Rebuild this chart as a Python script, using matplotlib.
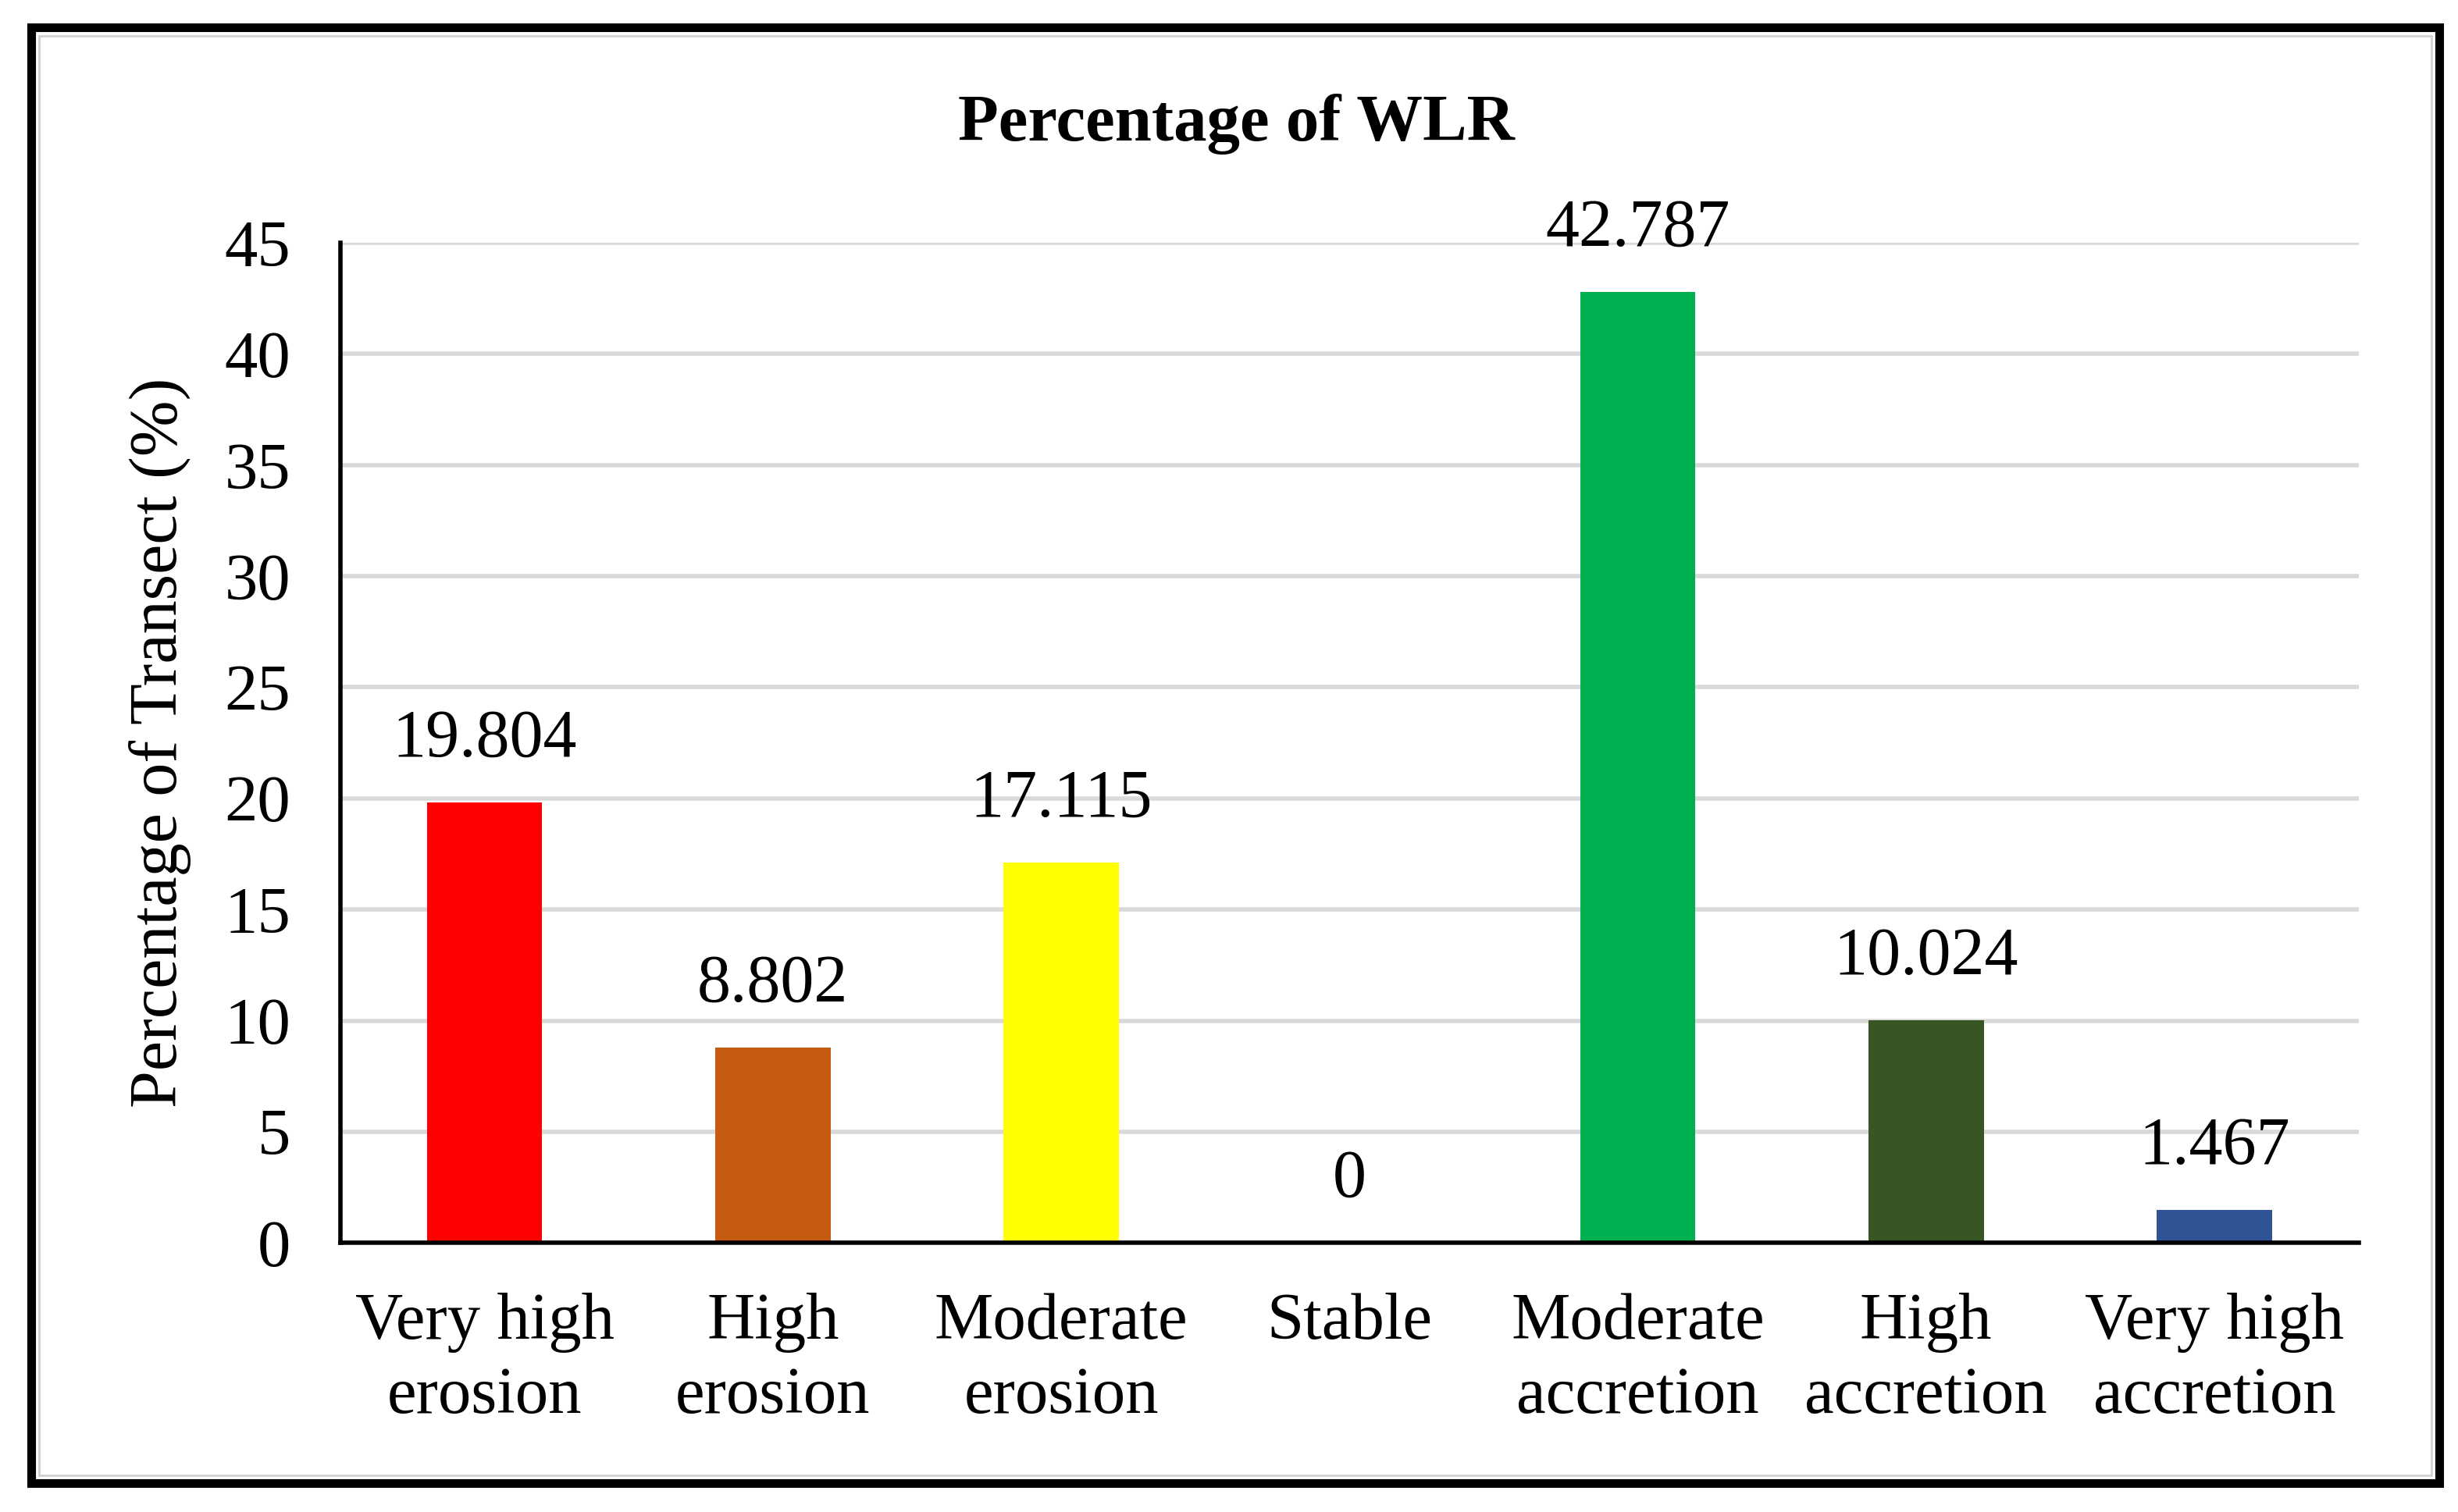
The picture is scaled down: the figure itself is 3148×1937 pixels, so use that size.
import numpy as np
import matplotlib
matplotlib.use('Agg')
import matplotlib.pyplot as plt
from matplotlib.patches import Rectangle

# Data
categories = ['Very high\nerosion', 'High\nerosion', 'Moderate\nerosion', 'Stable',
              'Moderate\naccretion', 'High\naccretion', 'Very high\naccretion']
values = [19.804, 8.802, 17.115, 0, 42.787, 10.024, 1.467]
value_labels = ['19.804', '8.802', '17.115', '0', '42.787', '10.024', '1.467']
colors = ['#FF0000', '#C55A11', '#FFFF00', '#FFFFFF', '#00B050', '#375623', '#2F5597']
y_ticks = [0, 5, 10, 15, 20, 25, 30, 35, 40, 45]

plt.rcParams['font.family'] = ['Liberation Serif', 'DejaVu Serif']

fig = plt.figure(figsize=(31.48, 19.37), dpi=100)
ax = fig.add_axes([0.1385, 0.178, 0.821, 0.6614])

x = np.arange(len(categories))
ax.bar(x, values, width=0.4, color=colors, zorder=3)

for xi, v, lab in zip(x, values, value_labels):
    ax.annotate(lab, (xi, v), xytext=(0, 29), textcoords='offset points',
                ha='center', va='bottom', fontsize=62)

ax.set_xlim(-0.5, len(categories) - 0.5)
ax.set_ylim(0, 45)
ax.set_yticks(y_ticks)
ax.set_xticks(x)
ax.set_xticklabels(categories, fontsize=61, linespacing=1.3)
ax.tick_params(axis='y', length=0, pad=46, labelsize=61)
ax.tick_params(axis='x', length=0, pad=46)
ax.yaxis.grid(True, color='#D9D9D9', linewidth=4, zorder=0)
ax.set_axisbelow(True)

for s in ['top', 'right']:
    ax.spines[s].set_visible(False)
ax.spines['left'].set_linewidth(4)
ax.spines['bottom'].set_linewidth(4)
ax.spines['bottom'].set_zorder(4)

ax.set_ylabel('Percentage of Transect (%)', fontsize=62)
ax.yaxis.set_label_coords(-0.074, 0.5)

fig.text(0.503, 0.918, 'Percentage of WLR', ha='center', va='center',
         fontsize=61, fontweight='bold')

# outer frame
fig.patches.append(Rectangle((0.0127, 0.0191), 0.9797, 0.9628, transform=fig.transFigure,
                             fill=False, edgecolor='black', linewidth=8))
fig.patches.append(Rectangle((0.0158, 0.0245), 0.9735, 0.952, transform=fig.transFigure,
                             fill=False, edgecolor='#D0D0D0', linewidth=2))

fig.savefig('out.png', dpi=100)
